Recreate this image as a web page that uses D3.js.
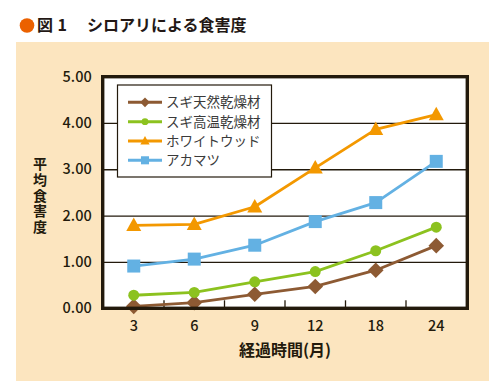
<!DOCTYPE html>
<html>
<head>
<meta charset="utf-8">
<script src="https://cdn.jsdelivr.net/npm/d3@7"></script>
<style>
  html, body { margin: 0; padding: 0; background: #fff; }
  svg { display: block; font-family: "Noto Sans CJK JP", "Noto Sans", sans-serif; }
</style>
</head>
<body>
<svg id="chart"></svg>
<script>
// Figure 1: termite damage index by elapsed months, four wood types.

const months = ["3", "6", "9", "12", "18", "24"];
const yTicks = [0, 1, 2, 3, 4, 5];

const sugiNatural = [0.04, 0.12, 0.30, 0.47, 0.82, 1.35];
const sugiKiln    = [0.28, 0.34, 0.57, 0.79, 1.24, 1.75];
const whiteWood   = [1.79, 1.81, 2.19, 3.03, 3.86, 4.18];
const akamatsu    = [0.91, 1.06, 1.36, 1.87, 2.28, 3.17];

const names = ["スギ天然乾燥材", "スギ高温乾燥材", "ホワイトウッド", "アカマツ"];

(function () {
  const W = 495, H = 390;
  const INK = "#231a0c";

  const series = [
    { name: names[0], values: sugiNatural, color: "#8d5a33", marker: "diamond" },
    { name: names[1], values: sugiKiln,    color: "#8cc21f", marker: "circle" },
    { name: names[2], values: whiteWood,   color: "#f39800", marker: "triangle" },
    { name: names[3], values: akamatsu,    color: "#63b1e3", marker: "square" }
  ];

  const svg = d3.select("#chart").attr("width", W).attr("height", H);

  // beige panel
  svg.append("rect")
    .attr("x", 16).attr("y", 42).attr("width", 473).attr("height", 339)
    .attr("fill", "#fce5bf");

  // title (three pieces so the gaps match the printed figure)
  svg.append("circle").attr("cx", 27).attr("cy", 25.5).attr("r", 7.3).attr("fill", "#eb6100");
  const title = svg.append("g")
    .attr("font-size", 16).attr("font-weight", 700).attr("fill", "#231815");
  title.append("text").attr("x", 37).attr("y", 31).text("図");
  title.append("text").attr("x", 57.5).attr("y", 31).text("1");
  title.append("text").attr("x", 87).attr("y", 31).text("シロアリによる食害度");

  const box = { l: 102.7, r: 467.3, t: 76.7, b: 308.3 };

  const x = d3.scaleBand().domain(months).range([103.5, 466.5]);
  const y = d3.scaleLinear().domain([0, 5]).range([308.2, 76.6]);

  // plot background
  svg.append("rect")
    .attr("x", box.l).attr("y", box.t)
    .attr("width", box.r - box.l).attr("height", box.b - box.t)
    .attr("fill", "#fff");

  // gridlines
  svg.append("g")
    .attr("transform", `translate(${box.l},0)`)
    .call(d3.axisLeft(y).tickValues([1, 2, 3, 4]).tickSize(-(box.r - box.l)).tickFormat(""))
    .call(g => g.select(".domain").remove())
    .call(g => g.selectAll("line").attr("stroke", INK).attr("stroke-width", 1.3));

  // y tick labels
  svg.append("g")
    .attr("transform", `translate(${box.l},0)`)
    .call(d3.axisLeft(y).tickValues(yTicks).tickSize(0).tickPadding(11).tickFormat(d3.format(".2f")))
    .call(g => g.select(".domain").remove())
    .call(g => g.selectAll("text")
      .attr("font-size", 14.5).attr("font-weight", 500).attr("fill", INK)
      .attr("font-family", "'Noto Sans CJK JP', sans-serif"));

  // x tick marks (between categories, pointing up) and labels
  const xb = months.slice(1).map(m => x(m));
  svg.append("g").selectAll("line").data(xb).join("line")
    .attr("x1", d => d).attr("x2", d => d)
    .attr("y1", box.b).attr("y2", box.b - 8)
    .attr("stroke", INK).attr("stroke-width", 1.3);

  svg.append("g")
    .attr("transform", `translate(0,${box.b})`)
    .call(d3.axisBottom(x).tickSize(0).tickPadding(12))
    .call(g => g.select(".domain").remove())
    .call(g => g.selectAll("text")
      .attr("font-size", 14.5).attr("font-weight", 500).attr("fill", INK)
      .attr("font-family", "'Noto Sans CJK JP', sans-serif"));

  // axis titles
  svg.append("text")
    .attr("x", (box.l + box.r) / 2).attr("y", 356)
    .attr("text-anchor", "middle")
    .attr("font-size", 16).attr("font-weight", 700).attr("fill", INK)
    .text("経過時間(月)");

  // vertical y title as one text run
  svg.append("text")
    .attr("x", 40).attr("y", 157)
    .style("writing-mode", "vertical-rl")
    .attr("letter-spacing", 1.6)
    .attr("font-size", 14).attr("font-weight", 700).attr("fill", INK)
    .text("平均食害度");

  // legend
  const lg = svg.append("g");
  lg.append("rect")
    .attr("x", 117.5).attr("y", 85).attr("width", 154).attr("height", 92)
    .attr("fill", "#fff").attr("stroke", INK).attr("stroke-width", 1.2);

  const rowY = [102.3, 121.7, 141, 160.3];
  series.forEach((s, i) => {
    lg.append("line")
      .attr("x1", 128).attr("x2", 162).attr("y1", rowY[i]).attr("y2", rowY[i])
      .attr("stroke", s.color).attr("stroke-width", 3);
    drawMarker(lg, 145, rowY[i], s, 0.62);
    lg.append("text")
      .attr("x", 166).attr("y", rowY[i]).attr("dy", "0.36em")
      .attr("font-size", 13.5).attr("fill", "#3a3a3a")
      .text(s.name);
  });

  // series lines + markers
  const line = d3.line().x((d, i) => x(months[i]) + x.bandwidth() / 2).y(d => y(d));
  series.forEach(s => {
    svg.append("path")
      .datum(s.values)
      .attr("fill", "none")
      .attr("stroke", s.color)
      .attr("stroke-width", 2.8)
      .attr("stroke-linejoin", "round")
      .attr("d", line);
  });
  series.forEach(s => {
    s.values.forEach((v, i) => drawMarker(svg, x(months[i]) + x.bandwidth() / 2, y(v), s, 1));
  });

  // frame on top
  svg.append("rect")
    .attr("x", box.l).attr("y", box.t)
    .attr("width", box.r - box.l).attr("height", box.b - box.t)
    .attr("fill", "none").attr("stroke", INK).attr("stroke-width", 3.4);

  function drawMarker(g, cx, cy, s, k) {
    if (s.marker === "diamond") {
      const r = 7.8 * k;
      g.append("path")
        .attr("d", `M${cx},${cy - r}L${cx + r},${cy}L${cx},${cy + r}L${cx - r},${cy}Z`)
        .attr("fill", s.color);
    } else if (s.marker === "circle") {
      g.append("circle").attr("cx", cx).attr("cy", cy).attr("r", 5.5 * k).attr("fill", s.color);
    } else if (s.marker === "triangle") {
      const r = 7.5 * k;
      g.append("path")
        .attr("d", `M${cx},${cy - r * 1.05}L${cx + r},${cy + r * 0.75}L${cx - r},${cy + r * 0.75}Z`)
        .attr("fill", s.color);
    } else {
      const r = 6.5 * k;
      g.append("rect")
        .attr("x", cx - r).attr("y", cy - r).attr("width", 2 * r).attr("height", 2 * r)
        .attr("fill", s.color);
    }
  }
})();
</script>
</body>
</html>
